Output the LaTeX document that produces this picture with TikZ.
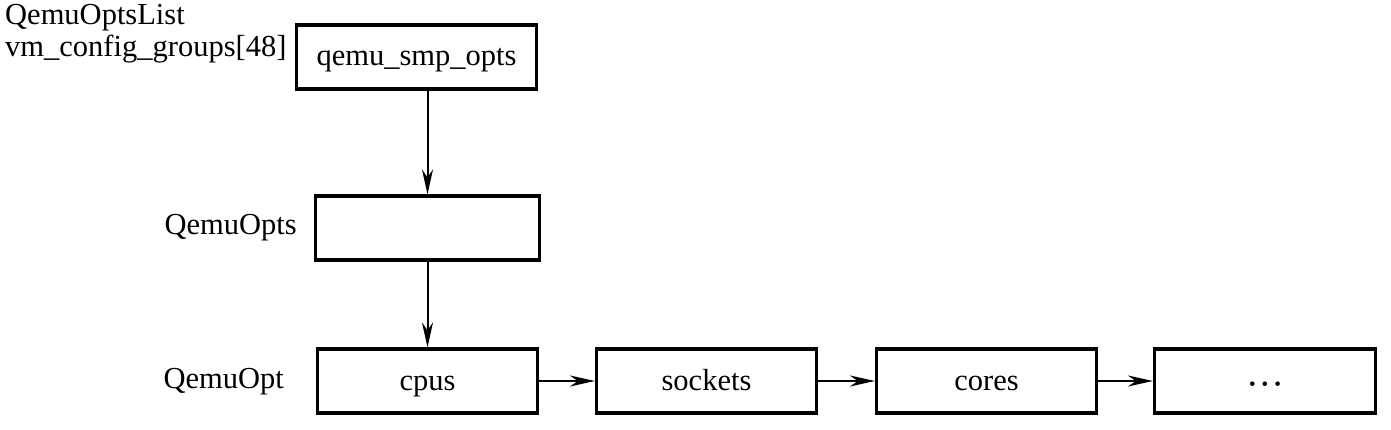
\documentclass[tikz,border=0pt]{standalone}
\usepackage{fontspec}
\setmainfont{Liberation Serif}
\usetikzlibrary{arrows.meta}

\begin{document}
\begin{tikzpicture}[x=1pt,y=-1pt,font=\fontsize{30.5}{32}\selectfont,
    >={Stealth[length=25pt,width=11pt,inset=8pt]}]

      \useasboundingbox (0,0) rectangle (1391,430);

      \begin{scope}[every node/.style={rectangle,draw,line width=3.2pt,
          minimum height=64pt,inner sep=0pt,text height=21pt,text depth=3pt}]
        \node[minimum width=240pt] (list) at (416.5,57)  {qemu\_smp\_opts};
        \node[minimum width=224pt] (opts) at (427.5,228) {};
        \node[minimum width=220pt] (1)    at (427.5,381) {cpus};
        \node[minimum width=220pt] (2)    at (706.5,381) {sockets};
        \node[minimum width=220pt] (3)    at (986.5,381) {cores};
        \node[minimum width=221pt] (4)    at (1265,381)
          {\fontsize{19}{19}\selectfont\textbullet\hspace{6pt}\textbullet\hspace{6pt}\textbullet};
      \end{scope}

      \begin{scope}[every node/.style={inner sep=0pt}]
        \node[anchor=west,align=left] (listlabel) at (5,34)
          {QemuOptsList\\vm\_config\_groups[48]};
        \node[anchor=east] (optslabel) at (297,228) {QemuOpts};
        \node[anchor=east] (optlabel)  at (284,382) {QemuOpt};
      \end{scope}

      \begin{scope}[every edge/.style={draw,line width=2pt}]
        \path (list.south -| opts) edge[->] (opts.north);
        \path (opts.south) edge[->] (1.north);
        \path (1) edge[->] (2);
        \path (2) edge[->] (3);
        \path (3) edge[->] (4);
      \end{scope}

    \end{tikzpicture}
\end{document}
